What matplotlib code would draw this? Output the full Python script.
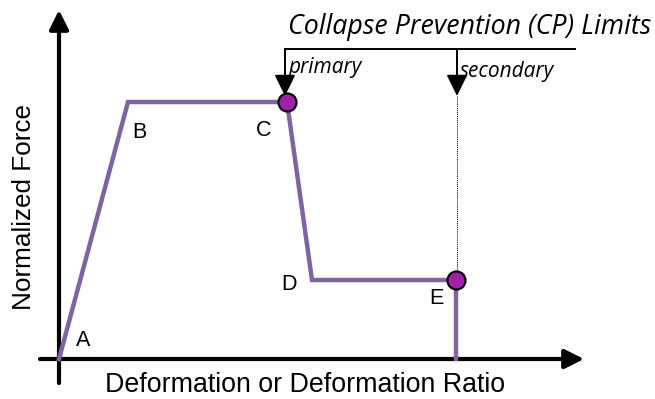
import matplotlib
matplotlib.use("Agg")
import matplotlib.pyplot as plt

# backbone curve (deformation, normalized force), arbitrary units
point_labels = ["A", "B", "C", "D", "E"]
deformation = [0, 69, 228, 253, 397, 397]
force = [0, 257, 257, 79, 79, 0]

# collapse prevention limits (at C and E)
cp_names = ["primary", "secondary"]
cp_deformation = [228, 397]
cp_force = [257, 79]

PURPLE = "#8064A2"
DOT = "#A020A8"

fig = plt.figure(figsize=(6.55, 3.99), dpi=100)
ax = fig.add_axes([0, 0, 1, 1])
ax.set_xlim(-59, 596)
ax.set_ylim(-40, 359)
ax.axis("off")

# axes drawn as arrows
ax.annotate("", xy=(525, 0), xytext=(-19, 0),
            arrowprops=dict(arrowstyle="-|>", lw=3, color="black", mutation_scale=29,
                            shrinkA=0, shrinkB=0))
ax.annotate("", xy=(0, 349), xytext=(0, -24),
            arrowprops=dict(arrowstyle="-|>", lw=3, color="black", mutation_scale=29,
                            shrinkA=0, shrinkB=0))

ax.plot(deformation, force, color=PURPLE, lw=3.2, solid_joinstyle="miter", zorder=3)

# label offsets for A..E
offs = [(24, 19), (11, -31), (-23, -29), (-23, -5), (-20, -19)]
for lab, x, y, (dx, dy) in zip(point_labels, deformation, force, offs):
    ax.text(x + dx, y + dy, lab, fontsize=15.5, family="Liberation Sans",
            ha="center", va="center")

# bracket and arrows for CP limits
bracket_y = 310
ax.plot([cp_deformation[0] - 2, 516], [bracket_y, bracket_y], color="black", lw=1.4)
for x, y, name in zip(cp_deformation, cp_force, cp_names):
    xa = x - 2 if name == "primary" else x + 1
    ax.annotate("", xy=(xa, 263), xytext=(xa, bracket_y),
                arrowprops=dict(arrowstyle="-|>,head_length=0.65,head_width=0.32",
                                lw=1.4, color="black", mutation_scale=20,
                                shrinkA=0, shrinkB=0))
    ax.text(xa + 3, 291 if name == "primary" else 287, name, fontsize=15,
            family="Open Sans", style="italic", ha="left", va="center")
ax.plot([cp_deformation[1] + 1] * 2, [263, cp_force[1]], color="black", lw=0.7,
        ls=(0, (1, 1)), zorder=2)

ax.scatter(cp_deformation, cp_force, s=170, color=DOT, edgecolor="black",
           linewidth=1.5, zorder=4)

ax.text(229, 332, "Collapse Prevention (CP) Limits", fontsize=19.3,
        family="Open Sans", style="italic", ha="left", va="center")

ax.text(246, -26, "Deformation or Deformation Ratio", fontsize=19.3,
        family="Liberation Sans", ha="center", va="center")
ax.text(-35, 152, "Normalized Force", fontsize=18.8, family="Liberation Sans",
        rotation=90, ha="center", va="center")

fig.savefig("out.png", dpi=100)
